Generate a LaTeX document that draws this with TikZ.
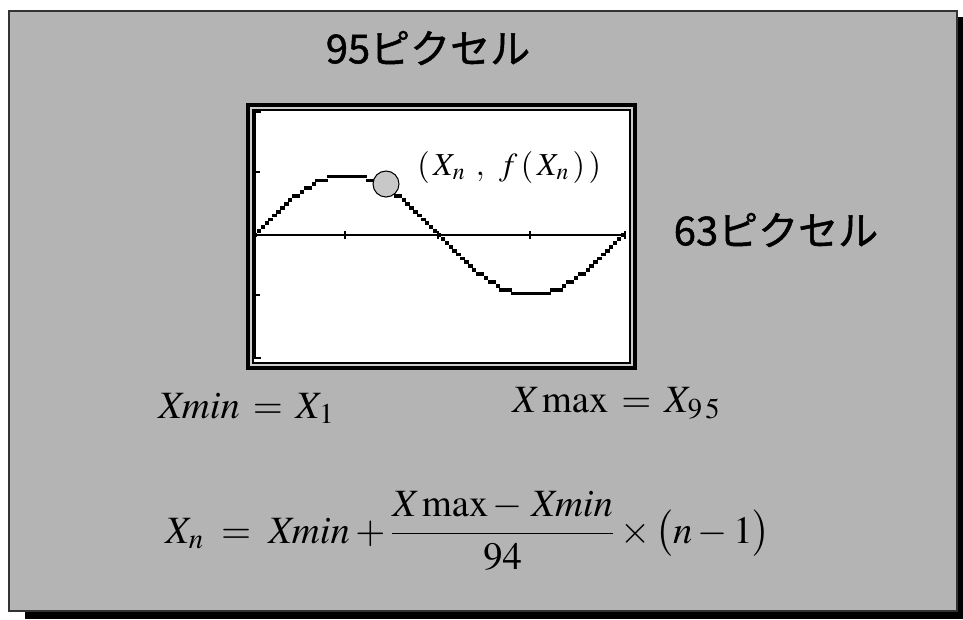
\documentclass[tikz,border=0pt]{standalone}
\usepackage{mathptmx}
\usepackage{fontspec}
\newfontfamily\jpfont[FakeBold=1.2]{Noto Sans CJK JP}
\definecolor{panelgray}{RGB}{180,180,180}
\definecolor{rimgray}{RGB}{205,205,205}
\definecolor{dotgray}{RGB}{200,200,200}

\begin{document}
\begin{tikzpicture}[x=0.75pt,y=-0.75pt,
  jplabel/.style={font=\jpfont\fontsize{30}{36}\selectfont, inner sep=0pt},
  mathlabel/.style={font=\fontsize{29}{35}\selectfont, inner sep=0pt, anchor=base west}]
\useasboundingbox (0,0) rectangle (963,619);
\fill[white] (0,0) rectangle (963,619);
\fill[black] (25,17) rectangle (963,619);
\filldraw[fill=panelgray, draw=black!80, line width=1.5pt] (9,11) rectangle (957,611);

% calculator screen
\filldraw[fill=rimgray, line width=2.4pt] (248,105) rectangle (635,368);
\filldraw[fill=white, line width=1pt] (253,110) rectangle (630,363);
\draw[line width=2pt] (261,112) -- (255,112) -- (255,358) -- (261,358);
\draw[line width=2pt] (255,235) -- (625,235);
\foreach \t in {345,438,530,625} \draw[line width=1.6pt] (\t,231) -- (\t,239);
\foreach \t in {172,295} \draw[line width=1.6pt] (255,\t) -- (260,\t);

% pixel curve
\foreach \n in {0,...,94}{
  \pgfmathsetmacro\px{255+\n*3.915}
  \pgfmathsetmacro\py{235-3.9*round(15.5*sin(\n*3.8298))}
  \fill (\px-2.2,\py-1.9) rectangle (\px+2.2,\py+1.9);
}
\filldraw[fill=dotgray, line width=0.8pt] (386,184) circle [radius=13];

\node[mathlabel, font=\fontsize{24}{29}\selectfont] (point) at (417,175)
  {$(\,\mathit{X}_{n}\;\,,\;\, f\,(\,\mathit{X}_{n}\,)\,)$};

\node[jplabel] (wide) at (428,48) {95ピクセル};
\node[jplabel] (tall) at (776,230) {63ピクセル};

\node[mathlabel] (xminlbl) at (158,418) {$\mathit{Xmin} \,=\, \mathit{X}_{1}$};
\node[mathlabel] (xmaxlbl) at (512,412) {$\mathit{X}\max \,=\, \mathit{X}_{9\,5}$};
\node[mathlabel] (formula) at (165,543)
  {$\displaystyle \mathit{X}_{n} \;=\; \mathit{Xmin} + \frac{\mathit{X}\max{-}\;\mathit{Xmin}}{94}\times\bigl(n-1\bigr)$};
\end{tikzpicture}
\end{document}
